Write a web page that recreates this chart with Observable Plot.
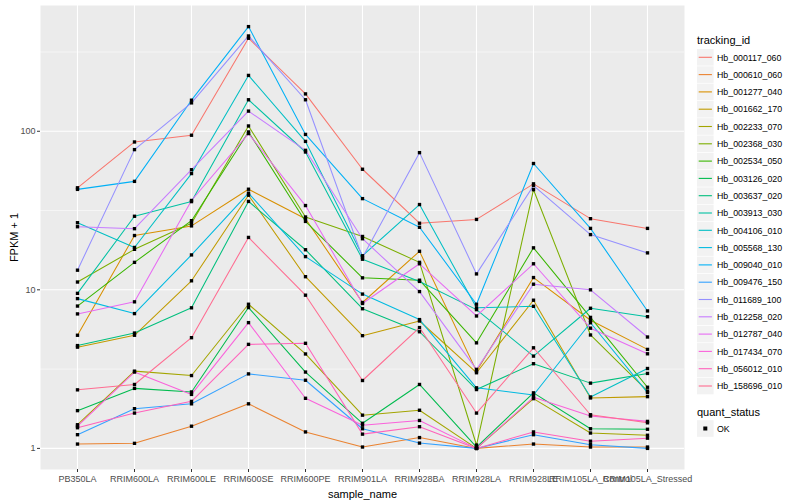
<!DOCTYPE html>
<html>
<head>
<meta charset="utf-8">
<script src="https://cdn.jsdelivr.net/npm/d3@7"></script>
<script src="https://cdn.jsdelivr.net/npm/@observablehq/plot@0.6"></script>
<style>
  body { margin: 0; background: white; }
  #wrap { position: relative; width: 800px; height: 500px; font-family: "Liberation Sans", Arial, sans-serif; }
  #legend { position: absolute; left: 0; top: 0; pointer-events: none; }
</style>
</head>
<body>
<div id="wrap"></div>
<script>
const samples = ["PB350LA","RRIM600LA","RRIM600LE","RRIM600SE","RRIM600PE","RRIM901LA","RRIM928BA","RRIM928LA","RRIM928LE","RRIM105LA_Control","RRIM105LA_Stressed"];
const trackingIds = ["Hb_000117_060","Hb_000610_060","Hb_001277_040","Hb_001662_170","Hb_002233_070","Hb_002368_030","Hb_002534_050","Hb_003126_020","Hb_003637_020","Hb_003913_030","Hb_004106_010","Hb_005568_130","Hb_009040_010","Hb_009476_150","Hb_011689_100","Hb_012258_020","Hb_012787_040","Hb_017434_070","Hb_056012_010","Hb_158696_010"];
const seriesColors = ["#F8766D","#EA8331","#D89000","#C09B00","#A3A500","#7CAE00","#39B600","#00BB4E","#00BF7D","#00C1A3","#00BFC4","#00BAE0","#00B0F6","#35A2FF","#9590FF","#C77CFF","#E76BF3","#FA62DB","#FF62BC","#FF6C91"];

// FPKM + 1 per sample (order of samples)
const Hb_000117_060 = [44, 85.6, 94.4, 386, 172, 57.6, 26.3, 27.8, 46.6, 28.1, 24.4];
const Hb_000610_060 = [1.065, 1.076, 1.38, 1.91, 1.27, 1.02, 1.17, 1.0, 1.065, 1.02, 1.02];
const Hb_001277_040 = [5.17, 22.0, 25.3, 43.1, 28.1, 8.32, 17.5, 3.07, 11.95, 6.43, 4.21];
const Hb_001662_170 = [4.35, 5.17, 11.4, 39.5, 12.1, 5.14, 6.36, 3.0, 8.6, 2.08, 2.12];
const Hb_002233_070 = [1.41, 3.07, 2.88, 8.11, 3.94, 1.62, 1.74, 1.0, 2.06, 1.25, 1.21];
const Hb_002368_030 = [11.2, 18.0, 26.3, 108, 28.8, 21.7, 14.9, 1.05, 42.8, 5.19, 2.30];
const Hb_002534_050 = [7.9, 14.9, 27.3, 99, 27.0, 11.9, 11.5, 4.63, 18.4, 6.7, 2.43];
const Hb_003126_020 = [1.73, 2.39, 2.27, 7.73, 3.03, 1.44, 2.53, 1.02, 2.24, 1.33, 1.32];
const Hb_003637_020 = [4.45, 5.34, 7.7, 36.1, 17.9, 7.6, 5.44, 2.35, 3.42, 2.58, 2.97];
const Hb_003913_030 = [9.5, 29.1, 36.0, 158, 74, 15.6, 11.3, 7.5, 3.82, 7.65, 6.77];
const Hb_004106_010 = [26.5, 18.5, 54.1, 225, 86.3, 16.4, 34.5, 7.7, 7.87, 2.11, 3.19];
const Hb_005568_130 = [8.8, 7.08, 16.6, 40.7, 16.2, 9.4, 6.49, 2.41, 2.17, 6.2, 2.25];
const Hb_009040_010 = [43, 48.3, 157, 457, 95.5, 37.6, 24.8, 8.11, 62.6, 24.4, 7.36];
const Hb_009476_150 = [1.22, 1.78, 1.91, 2.95, 2.69, 1.33, 1.08, 1.0, 1.22, 1.055, 1.0];
const Hb_011689_100 = [13.3, 76.6, 151, 399, 158, 16.0, 73.3, 12.6, 45.4, 22.3, 17.1];
const Hb_012258_020 = [25, 24.3, 57.2, 134, 75.8, 21.0, 9.75, 3.15, 10.85, 10.0, 5.04];
const Hb_012787_040 = [7.05, 8.4, 36.6, 96.7, 34.0, 8.2, 14.6, 6.84, 14.6, 5.73, 3.95];
const Hb_017434_070 = [1.38, 3.03, 2.19, 6.21, 2.07, 1.40, 1.50, 1.0, 2.10, 1.60, 1.48];
const Hb_056012_010 = [1.35, 1.67, 1.98, 4.53, 4.6, 1.23, 1.37, 1.0, 1.27, 1.11, 1.16];
const Hb_158696_010 = [2.34, 2.53, 4.99, 21.4, 9.25, 2.68, 5.78, 1.67, 4.31, 1.63, 1.45];

const seriesValues = [Hb_000117_060, Hb_000610_060, Hb_001277_040, Hb_001662_170, Hb_002233_070, Hb_002368_030, Hb_002534_050, Hb_003126_020, Hb_003637_020, Hb_003913_030, Hb_004106_010, Hb_005568_130, Hb_009040_010, Hb_009476_150, Hb_011689_100, Hb_012258_020, Hb_012787_040, Hb_017434_070, Hb_056012_010, Hb_158696_010];

const yMajor = [1, 10, 100];
const yMinor = [Math.sqrt(10), Math.sqrt(1000), Math.sqrt(100000)];

const rows = [];
trackingIds.forEach((id, i) => seriesValues[i].forEach((v, j) => rows.push({tracking_id: id, sample_name: samples[j], value: v, quant_status: "OK"})));

const chart = Plot.plot({
  width: 800, height: 500,
  marginLeft: 40, marginRight: 116, marginTop: 5, marginBottom: 31,
  style: {fontFamily: "'Liberation Sans', Arial, sans-serif", fontSize: "9px", color: "#4D4D4D", background: "white", overflow: "visible"},
  x: {type: "point", domain: samples, padding: 0.6},
  y: {type: "log", domain: [0.736, 621]},
  color: {domain: trackingIds, range: seriesColors},
  marks: [
    Plot.frame({fill: "#EBEBEB", stroke: "none"}),
    Plot.gridY(yMinor, {stroke: "white", strokeOpacity: 1, strokeWidth: 0.55}),
    Plot.gridY(yMajor, {stroke: "white", strokeOpacity: 1, strokeWidth: 1.1}),
    Plot.gridX(samples, {stroke: "white", strokeOpacity: 1, strokeWidth: 1.1}),
    Plot.line(rows, {x: "sample_name", y: "value", z: "tracking_id", stroke: "tracking_id", strokeWidth: 1.05}),
    Plot.dot(rows, {x: "sample_name", y: "value", symbol: "square", r: 1.9, fill: "black", stroke: "none"}),
    Plot.axisY(yMajor, {tickFormat: d => String(d), tickSize: 3, tickPadding: 2, stroke: "#333333", fill: "#4D4D4D", fontSize: 9,
      label: "FPKM + 1", labelAnchor: "center", labelArrow: "none", labelOffset: 30}),
    Plot.axisX(samples, {tickSize: 3, tickPadding: 3, stroke: "#333333", fill: "#4D4D4D", fontSize: 9,
      label: "sample_name", labelAnchor: "center", labelArrow: "none", labelOffset: 28})
  ]
});

const wrap = document.getElementById("wrap");
wrap.appendChild(chart);

// style axis titles like ggplot (larger, black)
d3.select(chart).selectAll("g[aria-label='y-axis label'] text, g[aria-label='x-axis label'] text")
  .attr("font-size", 11).attr("fill", "black");

// Legend (right side)
const lg = d3.select(wrap).append("svg").attr("id", "legend").attr("width", 800).attr("height", 500)
  .style("font-family", "'Liberation Sans', Arial, sans-serif");
const lx = 697, step = 17.3, y0 = 57.3;
lg.append("text").attr("x", lx).attr("y", 44).attr("font-size", 11).attr("fill", "black").text("tracking_id");
trackingIds.forEach((id, i) => {
  const cy = y0 + i * step;
  lg.append("rect").attr("x", lx).attr("y", cy - 8.3).attr("width", 16.6).attr("height", 16.6).attr("fill", "#F2F2F2");
  lg.append("line").attr("x1", lx + 1.7).attr("x2", lx + 14.9).attr("y1", cy).attr("y2", cy)
    .attr("stroke", seriesColors[i]).attr("stroke-width", 1.1);
  lg.append("text").attr("x", lx + 20).attr("y", cy + 3.2).attr("font-size", 8.8).attr("fill", "black").text(id);
});
lg.append("text").attr("x", lx).attr("y", 416).attr("font-size", 11).attr("fill", "black").text("quant_status");
const oy = 428.5;
lg.append("rect").attr("x", lx).attr("y", oy - 8.3).attr("width", 16.6).attr("height", 16.6).attr("fill", "#F2F2F2");
lg.append("rect").attr("x", lx + 6.3).attr("y", oy - 2).attr("width", 4).attr("height", 4).attr("fill", "black");
lg.append("text").attr("x", lx + 20).attr("y", oy + 3.2).attr("font-size", 8.8).attr("fill", "black").text("OK");
</script>
</body>
</html>
